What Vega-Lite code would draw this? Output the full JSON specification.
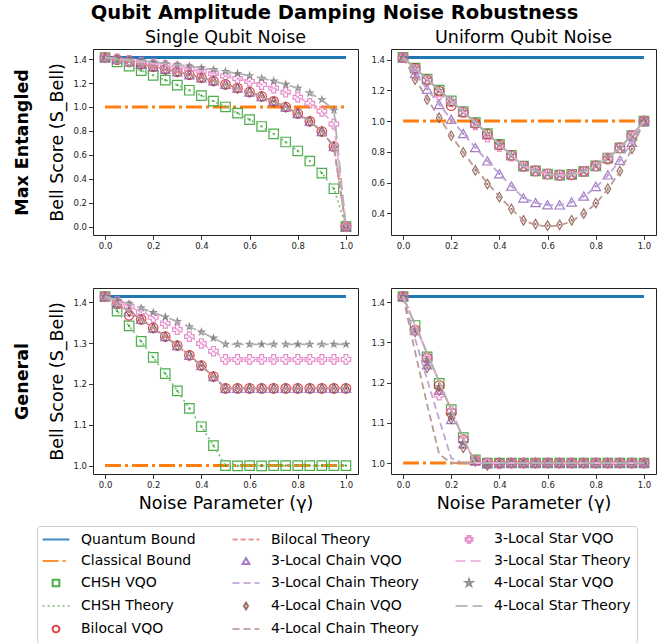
{
  "$schema": "https://vega.github.io/schema/vega-lite/v6.json",
  "background": "white",
  "padding": {"left": 12, "top": 2, "right": 4, "bottom": 2},
  "title": {"text": "Qubit Amplitude Damping Noise Robustness", "fontSize": 19.5, "fontWeight": "bold", "anchor": "middle", "offset": 5, "color": "#000000"},
  "datasets": {
    "names": [
      {"k": "QB", "series": "Quantum Bound", "kind": "bound"},
      {"k": "CB", "series": "Classical Bound", "kind": "bound"},
      {"k": "aV", "series": "CHSH VQO", "kind": "vqo"},
      {"k": "aT", "series": "CHSH Theory", "kind": "theory"},
      {"k": "bV", "series": "Bilocal VQO", "kind": "vqo"},
      {"k": "bT", "series": "Bilocal Theory", "kind": "theory"},
      {"k": "cV", "series": "3-Local Chain VQO", "kind": "vqo"},
      {"k": "cT", "series": "3-Local Chain Theory", "kind": "theory"},
      {"k": "dV", "series": "4-Local Chain VQO", "kind": "vqo"},
      {"k": "dT", "series": "4-Local Chain Theory", "kind": "theory"},
      {"k": "eV", "series": "3-Local Star VQO", "kind": "vqo"},
      {"k": "eT", "series": "3-Local Star Theory", "kind": "theory"},
      {"k": "fV", "series": "4-Local Star VQO", "kind": "vqo"},
      {"k": "fT", "series": "4-Local Star Theory", "kind": "theory"}
    ],
    "d": [
      {"p":"TL","g":0,"QB":1.4142,"CB":1,"aV":1.414,"aT":1.4142,"bV":1.414,"bT":1.4142,"cV":1.414,"cT":1.4142,"dV":1.414,"dT":1.4142,"eV":1.414,"eT":1.4142,"fV":1.414,"fT":1.4142},
      {"p":"TL","g":0.05,"QB":1.4142,"CB":1,"aV":1.378,"aT":1.3784,"bV":1.396,"bT":1.3962,"cV":1.396,"cT":1.3962,"dV":1.396,"dT":1.3962,"eV":1.402,"eT":1.4022,"fV":1.405,"fT":1.4052},
      {"p":"TL","g":0.1,"QB":1.4142,"CB":1,"aV":1.342,"aT":1.3416,"bV":1.377,"bT":1.3774,"cV":1.377,"cT":1.3774,"dV":1.377,"dT":1.3774,"eV":1.39,"eT":1.3896,"fV":1.396,"fT":1.3957},
      {"p":"TL","g":0.15,"QB":1.4142,"CB":1,"aV":1.304,"aT":1.3038,"bV":1.358,"bT":1.3579,"cV":1.358,"cT":1.3579,"dV":1.358,"dT":1.3579,"eV":1.376,"eT":1.3764,"fV":1.386,"fT":1.3858},
      {"p":"TL","g":0.2,"QB":1.4142,"CB":1,"aV":1.265,"aT":1.2649,"bV":1.337,"bT":1.3375,"cV":1.337,"cT":1.3375,"dV":1.337,"dT":1.3375,"eV":1.363,"eT":1.3626,"fV":1.375,"fT":1.3753},
      {"p":"TL","g":0.25,"QB":1.4142,"CB":1,"aV":1.225,"aT":1.2247,"bV":1.316,"bT":1.3161,"cV":1.316,"cT":1.3161,"dV":1.316,"dT":1.3161,"eV":1.348,"eT":1.348,"fV":1.364,"fT":1.3643},
      {"p":"TL","g":0.3,"QB":1.4142,"CB":1,"aV":1.183,"aT":1.1832,"bV":1.294,"bT":1.2936,"cV":1.294,"cT":1.2936,"dV":1.294,"dT":1.2936,"eV":1.333,"eT":1.3326,"fV":1.353,"fT":1.3526},
      {"p":"TL","g":0.35,"QB":1.4142,"CB":1,"aV":1.14,"aT":1.1402,"bV":1.27,"bT":1.2698,"cV":1.27,"cT":1.2698,"dV":1.27,"dT":1.2698,"eV":1.316,"eT":1.3162,"fV":1.34,"fT":1.3401},
      {"p":"TL","g":0.4,"QB":1.4142,"CB":1,"aV":1.095,"aT":1.0954,"bV":1.245,"bT":1.2447,"cV":1.245,"cT":1.2447,"dV":1.245,"dT":1.2447,"eV":1.299,"eT":1.2988,"fV":1.327,"fT":1.3267},
      {"p":"TL","g":0.45,"QB":1.4142,"CB":1,"aV":1.049,"aT":1.0488,"bV":1.218,"bT":1.2179,"cV":1.218,"cT":1.2179,"dV":1.218,"dT":1.2179,"eV":1.28,"eT":1.2801,"fV":1.312,"fT":1.3124},
      {"p":"TL","g":0.5,"QB":1.4142,"CB":1,"aV":1,"aT":1,"bV":1.189,"bT":1.1892,"cV":1.189,"cT":1.1892,"dV":1.189,"dT":1.1892,"eV":1.26,"eT":1.2599,"fV":1.297,"fT":1.2968},
      {"p":"TL","g":0.55,"QB":1.4142,"CB":1,"aV":0.949,"aT":0.9487,"bV":1.158,"bT":1.1583,"cV":1.158,"cT":1.1583,"dV":1.158,"dT":1.1583,"eV":1.238,"eT":1.238,"fV":1.28,"fT":1.2799},
      {"p":"TL","g":0.6,"QB":1.4142,"CB":1,"aV":0.894,"aT":0.8944,"bV":1.125,"bT":1.1247,"cV":1.125,"cT":1.1247,"dV":1.125,"dT":1.1247,"eV":1.214,"eT":1.2139,"fV":1.261,"fT":1.2612},
      {"p":"TL","g":0.65,"QB":1.4142,"CB":1,"aV":0.837,"aT":0.8367,"bV":1.088,"bT":1.0878,"cV":1.088,"cT":1.0878,"dV":1.088,"dT":1.0878,"eV":1.187,"eT":1.1872,"fV":1.24,"fT":1.2403},
      {"p":"TL","g":0.7,"QB":1.4142,"CB":1,"aV":0.775,"aT":0.7746,"bV":1.047,"bT":1.0466,"cV":1.047,"cT":1.0466,"dV":1.047,"dT":1.0466,"eV":1.157,"eT":1.1571,"fV":1.217,"fT":1.2166},
      {"p":"TL","g":0.75,"QB":1.4142,"CB":1,"aV":0.707,"aT":0.7071,"bV":1,"bT":1,"cV":1,"cT":1,"dV":1,"dT":1,"eV":1.123,"eT":1.1225,"fV":1.189,"fT":1.1892},
      {"p":"TL","g":0.8,"QB":1.4142,"CB":1,"aV":0.632,"aT":0.6325,"bV":0.946,"bT":0.9457,"cV":0.946,"cT":0.9457,"dV":0.946,"dT":0.9457,"eV":1.082,"eT":1.0815,"fV":1.157,"fT":1.1565},
      {"p":"TL","g":0.85,"QB":1.4142,"CB":1,"aV":0.548,"aT":0.5477,"bV":0.88,"bT":0.8801,"cV":0.88,"cT":0.8801,"dV":0.88,"dT":0.8801,"eV":1.031,"eT":1.0309,"fV":1.116,"fT":1.1157},
      {"p":"TL","g":0.9,"QB":1.4142,"CB":1,"aV":0.447,"aT":0.4472,"bV":0.795,"bT":0.7953,"cV":0.795,"cT":0.7953,"dV":0.795,"dT":0.7953,"eV":0.964,"eT":0.9635,"fV":1.061,"fT":1.0605},
      {"p":"TL","g":0.95,"QB":1.4142,"CB":1,"aV":0.316,"aT":0.3162,"bV":0.669,"bT":0.6687,"cV":0.669,"cT":0.6687,"dV":0.669,"dT":0.6687,"eV":0.858,"eT":0.8584,"fV":0.973,"fT":0.9725},
      {"p":"TL","g":1,"QB":1.4142,"CB":1,"aV":0,"aT":0,"bV":0,"bT":0,"cV":0,"cT":0,"dV":0,"dT":0,"eV":0,"eT":0,"fV":0,"fT":0},

      {"p":"TR","g":0,"QB":1.4142,"CB":1,"aV":1.414,"aT":1.4142,"bV":1.414,"bT":1.4142,"cV":1.414,"cT":1.4142,"dV":1.414,"dT":1.4142,"eV":1.414,"eT":1.4142,"fV":1.414,"fT":1.4142},
      {"p":"TR","g":0.05,"QB":1.4142,"CB":1,"aV":1.344,"aT":1.3435,"bV":1.343,"bT":1.3435,"cV":1.309,"cT":1.3095,"dV":1.27,"dT":1.2763,"eV":1.335,"eT":1.3435,"fV":1.343,"fT":1.3435},
      {"p":"TR","g":0.1,"QB":1.4142,"CB":1,"aV":1.273,"aT":1.2728,"bV":1.268,"bT":1.2728,"cV":1.207,"cT":1.2075,"dV":1.14,"dT":1.1455,"eV":1.265,"eT":1.2728,"fV":1.272,"fT":1.2728},
      {"p":"TR","g":0.15,"QB":1.4142,"CB":1,"aV":1.202,"aT":1.2021,"bV":1.195,"bT":1.2021,"cV":1.108,"cT":1.1083,"dV":1.022,"dT":1.0218,"eV":1.17,"eT":1.2021,"fV":1.2,"fT":1.2021},
      {"p":"TR","g":0.2,"QB":1.4142,"CB":1,"aV":1.131,"aT":1.1314,"bV":1.1,"bT":1.1314,"cV":1.012,"cT":1.0119,"dV":0.905,"dT":0.9051,"eV":1.125,"eT":1.1314,"fV":1.13,"fT":1.1314},
      {"p":"TR","g":0.25,"QB":1.4142,"CB":1,"aV":1.061,"aT":1.0607,"bV":1.058,"bT":1.0607,"cV":0.919,"cT":0.9186,"dV":0.796,"dT":0.7955,"eV":1.055,"eT":1.0607,"fV":1.06,"fT":1.0607},
      {"p":"TR","g":0.3,"QB":1.4142,"CB":1,"aV":0.99,"aT":0.9899,"bV":0.985,"bT":0.9899,"cV":0.828,"cT":0.8283,"dV":0.68,"dT":0.693,"eV":0.975,"eT":0.9899,"fV":0.988,"fT":0.9899},
      {"p":"TR","g":0.35,"QB":1.4142,"CB":1,"aV":0.919,"aT":0.9192,"bV":0.915,"bT":0.9192,"cV":0.741,"cT":0.7411,"dV":0.59,"dT":0.5975,"eV":0.895,"eT":0.9192,"fV":0.918,"fT":0.9192},
      {"p":"TR","g":0.4,"QB":1.4142,"CB":1,"aV":0.849,"aT":0.8485,"bV":0.845,"bT":0.8485,"cV":0.657,"cT":0.6573,"dV":0.505,"dT":0.5091,"eV":0.835,"eT":0.8485,"fV":0.847,"fT":0.8485},
      {"p":"TR","g":0.45,"QB":1.4142,"CB":1,"aV":0.778,"aT":0.7778,"bV":0.776,"bT":0.7778,"cV":0.577,"cT":0.5768,"dV":0.428,"dT":0.4278,"eV":0.772,"eT":0.7778,"fV":0.777,"fT":0.7778},
      {"p":"TR","g":0.5,"QB":1.4142,"CB":1,"aV":0.707,"aT":0.7071,"bV":0.707,"bT":0.7071,"cV":0.5,"cT":0.5,"dV":0.354,"dT":0.3536,"eV":0.706,"eT":0.7071,"fV":0.707,"fT":0.7071},
      {"p":"TR","g":0.55,"QB":1.4142,"CB":1,"aV":0.676,"aT":0.6764,"bV":0.676,"bT":0.6764,"cV":0.47,"cT":0.469,"dV":0.33,"dT":0.3256,"eV":0.676,"eT":0.6764,"fV":0.676,"fT":0.6764},
      {"p":"TR","g":0.6,"QB":1.4142,"CB":1,"aV":0.656,"aT":0.656,"bV":0.656,"bT":0.656,"cV":0.456,"cT":0.4524,"dV":0.32,"dT":0.3142,"eV":0.656,"eT":0.656,"fV":0.656,"fT":0.656},
      {"p":"TR","g":0.65,"QB":1.4142,"CB":1,"aV":0.648,"aT":0.6477,"bV":0.648,"bT":0.6477,"cV":0.455,"cT":0.4525,"dV":0.325,"dT":0.3213,"eV":0.648,"eT":0.6477,"fV":0.648,"fT":0.6477},
      {"p":"TR","g":0.7,"QB":1.4142,"CB":1,"aV":0.653,"aT":0.653,"bV":0.65,"bT":0.653,"cV":0.474,"cT":0.4713,"dV":0.355,"dT":0.3483,"eV":0.653,"eT":0.653,"fV":0.653,"fT":0.653},
      {"p":"TR","g":0.75,"QB":1.4142,"CB":1,"aV":0.673,"aT":0.6731,"bV":0.673,"bT":0.6731,"cV":0.512,"cT":0.5096,"dV":0.398,"dT":0.3956,"eV":0.673,"eT":0.6731,"fV":0.673,"fT":0.6731},
      {"p":"TR","g":0.8,"QB":1.4142,"CB":1,"aV":0.709,"aT":0.7088,"bV":0.709,"bT":0.7088,"cV":0.575,"cT":0.5678,"dV":0.466,"dT":0.4641,"eV":0.709,"eT":0.7088,"fV":0.709,"fT":0.7088},
      {"p":"TR","g":0.85,"QB":1.4142,"CB":1,"aV":0.76,"aT":0.76,"bV":0.752,"bT":0.76,"cV":0.65,"cT":0.6457,"dV":0.56,"dT":0.5555,"eV":0.76,"eT":0.76,"fV":0.76,"fT":0.76},
      {"p":"TR","g":0.9,"QB":1.4142,"CB":1,"aV":0.826,"aT":0.8261,"bV":0.826,"bT":0.8261,"cV":0.745,"cT":0.7432,"dV":0.675,"dT":0.6725,"eV":0.826,"eT":0.8261,"fV":0.826,"fT":0.8261},
      {"p":"TR","g":0.95,"QB":1.4142,"CB":1,"aV":0.906,"aT":0.9064,"bV":0.906,"bT":0.9064,"cV":0.862,"cT":0.861,"dV":0.82,"dT":0.819,"eV":0.906,"eT":0.9064,"fV":0.906,"fT":0.9064},
      {"p":"TR","g":1,"QB":1.4142,"CB":1,"aV":1,"aT":1,"bV":1,"bT":1,"cV":1,"cT":1,"dV":1,"dT":1,"eV":1,"eT":1,"fV":1,"fT":1},

      {"p":"BL","g":0,"QB":1.4142,"CB":1,"aV":1.414,"aT":1.4142,"bV":1.414,"bT":1.4142,"cV":1.414,"cT":1.4142,"dV":1.414,"dT":1.4142,"eV":1.414,"eT":1.4142,"fV":1.414,"fT":1.4142},
      {"p":"BL","g":0.05,"QB":1.4142,"CB":1,"aV":1.378,"aT":1.3784,"bV":1.396,"bT":1.3962,"cV":1.396,"cT":1.3962,"dV":1.396,"dT":1.3962,"eV":1.402,"eT":1.4022,"fV":1.405,"fT":1.4052},
      {"p":"BL","g":0.1,"QB":1.4142,"CB":1,"aV":1.342,"aT":1.3416,"bV":1.368,"bT":1.3774,"cV":1.377,"cT":1.3774,"dV":1.377,"dT":1.3774,"eV":1.39,"eT":1.3896,"fV":1.396,"fT":1.3957},
      {"p":"BL","g":0.15,"QB":1.4142,"CB":1,"aV":1.304,"aT":1.3038,"bV":1.358,"bT":1.3579,"cV":1.358,"cT":1.3579,"dV":1.358,"dT":1.3579,"eV":1.376,"eT":1.3764,"fV":1.386,"fT":1.3858},
      {"p":"BL","g":0.2,"QB":1.4142,"CB":1,"aV":1.265,"aT":1.2649,"bV":1.337,"bT":1.3375,"cV":1.337,"cT":1.3375,"dV":1.337,"dT":1.3375,"eV":1.363,"eT":1.3626,"fV":1.375,"fT":1.3753},
      {"p":"BL","g":0.25,"QB":1.4142,"CB":1,"aV":1.225,"aT":1.2247,"bV":1.316,"bT":1.3161,"cV":1.316,"cT":1.3161,"dV":1.316,"dT":1.3161,"eV":1.348,"eT":1.348,"fV":1.364,"fT":1.3643},
      {"p":"BL","g":0.3,"QB":1.4142,"CB":1,"aV":1.183,"aT":1.1832,"bV":1.294,"bT":1.2936,"cV":1.294,"cT":1.2936,"dV":1.294,"dT":1.2936,"eV":1.333,"eT":1.3326,"fV":1.353,"fT":1.3526},
      {"p":"BL","g":0.35,"QB":1.4142,"CB":1,"aV":1.14,"aT":1.1402,"bV":1.27,"bT":1.2698,"cV":1.27,"cT":1.2698,"dV":1.27,"dT":1.2698,"eV":1.316,"eT":1.3162,"fV":1.34,"fT":1.3401},
      {"p":"BL","g":0.4,"QB":1.4142,"CB":1,"aV":1.095,"aT":1.0954,"bV":1.245,"bT":1.2447,"cV":1.245,"cT":1.2447,"dV":1.245,"dT":1.2447,"eV":1.299,"eT":1.2988,"fV":1.327,"fT":1.3267},
      {"p":"BL","g":0.45,"QB":1.4142,"CB":1,"aV":1.049,"aT":1.0488,"bV":1.218,"bT":1.2179,"cV":1.218,"cT":1.2179,"dV":1.218,"dT":1.2179,"eV":1.28,"eT":1.2801,"fV":1.312,"fT":1.3124},
      {"p":"BL","g":0.5,"QB":1.4142,"CB":1,"aV":1,"aT":1,"bV":1.189,"bT":1.1892,"cV":1.189,"cT":1.1892,"dV":1.189,"dT":1.1892,"eV":1.26,"eT":1.2599,"fV":1.297,"fT":1.2968},
      {"p":"BL","g":0.55,"QB":1.4142,"CB":1,"aV":0.999,"aT":1,"bV":1.189,"bT":1.1892,"cV":1.189,"cT":1.1892,"dV":1.189,"dT":1.1892,"eV":1.26,"eT":1.2599,"fV":1.297,"fT":1.2968},
      {"p":"BL","g":0.6,"QB":1.4142,"CB":1,"aV":1,"aT":1,"bV":1.189,"bT":1.1892,"cV":1.189,"cT":1.1892,"dV":1.189,"dT":1.1892,"eV":1.26,"eT":1.2599,"fV":1.297,"fT":1.2968},
      {"p":"BL","g":0.65,"QB":1.4142,"CB":1,"aV":0.999,"aT":1,"bV":1.189,"bT":1.1892,"cV":1.189,"cT":1.1892,"dV":1.189,"dT":1.1892,"eV":1.26,"eT":1.2599,"fV":1.297,"fT":1.2968},
      {"p":"BL","g":0.7,"QB":1.4142,"CB":1,"aV":1,"aT":1,"bV":1.189,"bT":1.1892,"cV":1.189,"cT":1.1892,"dV":1.189,"dT":1.1892,"eV":1.26,"eT":1.2599,"fV":1.297,"fT":1.2968},
      {"p":"BL","g":0.75,"QB":1.4142,"CB":1,"aV":1,"aT":1,"bV":1.189,"bT":1.1892,"cV":1.189,"cT":1.1892,"dV":1.189,"dT":1.1892,"eV":1.26,"eT":1.2599,"fV":1.297,"fT":1.2968},
      {"p":"BL","g":0.8,"QB":1.4142,"CB":1,"aV":1,"aT":1,"bV":1.189,"bT":1.1892,"cV":1.189,"cT":1.1892,"dV":1.189,"dT":1.1892,"eV":1.26,"eT":1.2599,"fV":1.297,"fT":1.2968},
      {"p":"BL","g":0.85,"QB":1.4142,"CB":1,"aV":1,"aT":1,"bV":1.189,"bT":1.1892,"cV":1.189,"cT":1.1892,"dV":1.189,"dT":1.1892,"eV":1.26,"eT":1.2599,"fV":1.297,"fT":1.2968},
      {"p":"BL","g":0.9,"QB":1.4142,"CB":1,"aV":1,"aT":1,"bV":1.189,"bT":1.1892,"cV":1.189,"cT":1.1892,"dV":1.189,"dT":1.1892,"eV":1.26,"eT":1.2599,"fV":1.297,"fT":1.2968},
      {"p":"BL","g":0.95,"QB":1.4142,"CB":1,"aV":1,"aT":1,"bV":1.189,"bT":1.1892,"cV":1.189,"cT":1.1892,"dV":1.189,"dT":1.1892,"eV":1.26,"eT":1.2599,"fV":1.297,"fT":1.2968},
      {"p":"BL","g":1,"QB":1.4142,"CB":1,"aV":1,"aT":1,"bV":1.189,"bT":1.1892,"cV":1.189,"cT":1.1892,"dV":1.189,"dT":1.1892,"eV":1.26,"eT":1.2599,"fV":1.297,"fT":1.2968},

      {"p":"BR","g":0,"QB":1.4142,"CB":1,"aV":1.414,"aT":1.4142,"bV":1.414,"bT":1.4142,"cV":1.414,"cT":1.4142,"dV":1.414,"dT":1.4142,"eV":1.414,"eT":1.4142,"fV":1.414,"fT":1.4142},
      {"p":"BR","g":0.05,"QB":1.4142,"CB":1,"aV":1.342,"aT":1.3435,"bV":1.331,"bT":1.3435,"cV":1.33,"cT":1.3095,"dV":1.326,"dT":1.2763,"eV":1.33,"eT":1.3435,"fV":1.33,"fT":1.3435},
      {"p":"BR","g":0.1,"QB":1.4142,"CB":1,"aV":1.264,"aT":1.2728,"bV":1.262,"bT":1.2728,"cV":1.244,"cT":1.2075,"dV":1.237,"dT":1.1455,"eV":1.26,"eT":1.2728,"fV":1.258,"fT":1.2728},
      {"p":"BR","g":0.15,"QB":1.4142,"CB":1,"aV":1.198,"aT":1.2021,"bV":1.193,"bT":1.2021,"cV":1.181,"cT":1.1083,"dV":1.18,"dT":1.0218,"eV":1.169,"eT":1.2021,"fV":1.19,"fT":1.2021},
      {"p":"BR","g":0.2,"QB":1.4142,"CB":1,"aV":1.133,"aT":1.1314,"bV":1.125,"bT":1.1314,"cV":1.108,"cT":1.0119,"dV":1.11,"dT":1,"eV":1.13,"eT":1.1314,"fV":1.12,"fT":1.1314},
      {"p":"BR","g":0.25,"QB":1.4142,"CB":1,"aV":1.063,"aT":1.0607,"bV":1.058,"bT":1.0607,"cV":1.048,"cT":1,"dV":1.038,"dT":1,"eV":1.058,"eT":1.0607,"fV":1.05,"fT":1.0607},
      {"p":"BR","g":0.3,"QB":1.4142,"CB":1,"aV":1.008,"aT":1,"bV":1.006,"bT":1,"cV":1.005,"cT":1,"dV":1.004,"dT":1,"eV":1.006,"eT":1,"fV":1.005,"fT":1},
      {"p":"BR","g":0.35,"QB":1.4142,"CB":1,"aV":1,"aT":1,"bV":1,"bT":1,"cV":0.998,"cT":1,"dV":0.994,"dT":1,"eV":1,"eT":1,"fV":0.994,"fT":1},
      {"p":"BR","g":0.4,"QB":1.4142,"CB":1,"aV":1,"aT":1,"bV":1,"bT":1,"cV":1,"cT":1,"dV":1,"dT":1,"eV":0.998,"eT":1,"fV":1,"fT":1},
      {"p":"BR","g":0.45,"QB":1.4142,"CB":1,"aV":1,"aT":1,"bV":1,"bT":1,"cV":1,"cT":1,"dV":1,"dT":1,"eV":1,"eT":1,"fV":1,"fT":1},
      {"p":"BR","g":0.5,"QB":1.4142,"CB":1,"aV":1,"aT":1,"bV":1,"bT":1,"cV":1,"cT":1,"dV":1,"dT":1,"eV":1,"eT":1,"fV":1,"fT":1},
      {"p":"BR","g":0.55,"QB":1.4142,"CB":1,"aV":1,"aT":1,"bV":1,"bT":1,"cV":1,"cT":1,"dV":1,"dT":1,"eV":1,"eT":1,"fV":1,"fT":1},
      {"p":"BR","g":0.6,"QB":1.4142,"CB":1,"aV":1,"aT":1,"bV":1,"bT":1,"cV":1,"cT":1,"dV":1,"dT":1,"eV":1,"eT":1,"fV":1,"fT":1},
      {"p":"BR","g":0.65,"QB":1.4142,"CB":1,"aV":1,"aT":1,"bV":1,"bT":1,"cV":1,"cT":1,"dV":1,"dT":1,"eV":1,"eT":1,"fV":1,"fT":1},
      {"p":"BR","g":0.7,"QB":1.4142,"CB":1,"aV":1,"aT":1,"bV":1,"bT":1,"cV":1,"cT":1,"dV":1,"dT":1,"eV":1,"eT":1,"fV":1,"fT":1},
      {"p":"BR","g":0.75,"QB":1.4142,"CB":1,"aV":1,"aT":1,"bV":1,"bT":1,"cV":1,"cT":1,"dV":1,"dT":1,"eV":1,"eT":1,"fV":1,"fT":1},
      {"p":"BR","g":0.8,"QB":1.4142,"CB":1,"aV":1,"aT":1,"bV":1,"bT":1,"cV":1,"cT":1,"dV":1,"dT":1,"eV":1,"eT":1,"fV":1,"fT":1},
      {"p":"BR","g":0.85,"QB":1.4142,"CB":1,"aV":1,"aT":1,"bV":1,"bT":1,"cV":1,"cT":1,"dV":1,"dT":1,"eV":1,"eT":1,"fV":1,"fT":1},
      {"p":"BR","g":0.9,"QB":1.4142,"CB":1,"aV":1,"aT":1,"bV":1,"bT":1,"cV":1,"cT":1,"dV":1,"dT":1,"eV":1,"eT":1,"fV":1,"fT":1},
      {"p":"BR","g":0.95,"QB":1.4142,"CB":1,"aV":1,"aT":1,"bV":1,"bT":1,"cV":1,"cT":1,"dV":1,"dT":1,"eV":1,"eT":1,"fV":1,"fT":1},
      {"p":"BR","g":1,"QB":1.4142,"CB":1,"aV":1,"aT":1,"bV":1,"bT":1,"cV":1,"cT":1,"dV":1,"dT":1,"eV":1,"eT":1,"fV":1,"fT":1}
    ]
  },
  "config": {
    "font": "DejaVu Sans",
    "view": {"stroke": "#222222", "strokeWidth": 1},
    "axis": {"grid": false, "domain": false, "tickColor": "#222222", "tickSize": 4.5, "tickWidth": 0.9, "labelFont": "DejaVu Sans", "labelFontSize": 8.5, "labelColor": "#222222", "labelPadding": 2, "labelFlush": false, "titleFont": "DejaVu Sans", "titleFontSize": 17.5, "titleFontWeight": "normal", "titleColor": "#000000"},
    "axisX": {"titlePadding": 5},
    "axisY": {"titlePadding": 6},
    "title": {"font": "DejaVu Sans", "color": "#000000"}
  },
  "spacing": 36,
  "vconcat": [
    {
      "spacing": 11,
      "hconcat": [
        {
          "width": 265, "height": 186,
          "title": {"text": "Single Qubit Noise", "fontSize": 17.5, "fontWeight": "normal", "anchor": "middle", "offset": 3},
          "data": {"name": "d"},
          "transform": [
            {"filter": "datum.p === 'TL'"},
            {"fold": ["QB","CB","aV","aT","bV","bT","cV","cT","dV","dT","eV","eT","fV","fT"], "as": ["k","v"]},
            {"lookup": "k", "from": {"data": {"name": "names"}, "key": "k", "fields": ["series","kind"]}}
          ],
          "resolve": {"scale": {"y": "independent"}, "axis": {"y": "independent"}},
          "layer": [
            {
              "encoding": {
                "x": {"field": "g", "type": "quantitative", "scale": {"domain": [-0.05, 1.05], "nice": false, "zero": false}, "axis": {"title": null, "values": [0,0.2,0.4,0.6,0.8,1], "format": ".1f"}},
                "y": {"field": "v", "type": "quantitative", "scale": {"domain": [-0.0707, 1.4849], "nice": false, "zero": false}, "axis": {"title": "Bell Score (S_Bell)", "values": [0,0.2,0.4,0.6,0.8,1,1.2,1.4], "format": ".1f"}}
              },
              "layer": [
                {
                  "transform": [{"filter": "datum.kind === 'bound'"}],
                  "mark": {"type": "line", "strokeWidth": 3},
                  "encoding": {
                    "color": {"field": "series", "type": "nominal",
                      "scale": {"domain": ["Quantum Bound","Classical Bound","CHSH VQO","CHSH Theory","Bilocal VQO","Bilocal Theory","3-Local Chain VQO","3-Local Chain Theory","4-Local Chain VQO","4-Local Chain Theory","3-Local Star VQO","3-Local Star Theory","4-Local Star VQO","4-Local Star Theory"],
                                "range": ["#1f77b4","#ff7f0e","#2ca02c","#80c680","#d62728","#e67d7e","#9467bd","#bfa4d7","#8c564b","#ba9a93","#e377c2","#eeadda","#7f7f7f","#b2b2b2"]},
                      "legend": {
                        "orient": "none", "legendX": -56, "legendY": 477,
                        "title": null, "columns": 3, "columnPadding": 32, "rowPadding": 7,
                        "symbolSize": 45, "symbolStrokeWidth": 2, "symbolFillColor": "transparent", "symbolOffset": 6,
                        "labelFontSize": 14, "labelFont": "DejaVu Sans", "labelColor": "#000000", "labelOffset": 18, "labelLimit": 400,
                        "padding": 6, "strokeColor": "#cccccc", "fillColor": "#ffffff", "cornerRadius": 3
                      }
                    },
                    "strokeDash": {"field": "series", "type": "nominal",
                      "scale": {"domain": ["Quantum Bound","Classical Bound","CHSH VQO","CHSH Theory","Bilocal VQO","Bilocal Theory","3-Local Chain VQO","3-Local Chain Theory","4-Local Chain VQO","4-Local Chain Theory","3-Local Star VQO","3-Local Star Theory","4-Local Star VQO","4-Local Star Theory"],
                                "range": [[1,0],[16,4,3,4],[1,0],[2,3],[1,0],[5,3],[1,0],[7,4],[1,0],[7,4],[1,0],[10,5],[1,0],[12,5]]}}
                  }
                },
                {
                  "transform": [{"filter": "datum.kind === 'vqo' && datum.k !== 'fV'"}],
                  "mark": {"type": "point", "filled": false, "size": 90, "strokeWidth": 1.2, "opacity": 0.85},
                  "encoding": {
                    "color": {"field": "series", "type": "nominal"},
                    "shape": {"field": "series", "type": "nominal",
                      "scale": {"domain": ["Quantum Bound","Classical Bound","CHSH VQO","CHSH Theory","Bilocal VQO","Bilocal Theory","3-Local Chain VQO","3-Local Chain Theory","4-Local Chain VQO","4-Local Chain Theory","3-Local Star VQO","3-Local Star Theory","4-Local Star VQO","4-Local Star Theory"],
                                "range": ["M-4,0L4,0","M-4,0L4,0","square","M-4,0L4,0","circle","M-4,0L4,0","triangle-up","M-4,0L4,0","M0,-1L0.6,0L0,1L-0.6,0Z","M-4,0L4,0","cross","M-4,0L4,0","M0,-1L0.22,-0.31L0.95,-0.31L0.36,0.12L0.59,0.81L0,0.38L-0.59,0.81L-0.36,0.12L-0.95,-0.31L-0.22,-0.31Z","M-4,0L4,0"]}}
                  }
                },
                {
                  "transform": [{"filter": "datum.k === 'fV'"}],
                  "mark": {"type": "point", "filled": true, "size": 100, "opacity": 0.9, "color": "#7f7f7f", "shape": "M0,-1L0.22,-0.31L0.95,-0.31L0.36,0.12L0.59,0.81L0,0.38L-0.59,0.81L-0.36,0.12L-0.95,-0.31L-0.22,-0.31Z"}
                },
                {
                  "transform": [{"filter": "datum.kind === 'vqo'"}],
                  "mark": {"type": "point", "filled": true, "size": 5, "opacity": 1, "shape": "circle"},
                  "encoding": {"fill": {"field": "series", "type": "nominal", "legend": null,
                    "scale": {"domain": ["CHSH VQO","Bilocal VQO","3-Local Chain VQO","4-Local Chain VQO","3-Local Star VQO","4-Local Star VQO"],
                              "range": ["#2ca02c","#d62728","#9467bd","#8c564b","#e377c2","#7f7f7f"]}}}
                },
                {
                  "transform": [{"filter": "datum.kind === 'theory'"}],
                  "mark": {"type": "line", "strokeWidth": 1.8},
                  "encoding": {
                    "color": {"field": "series", "type": "nominal"},
                    "strokeDash": {"field": "series", "type": "nominal"}
                  }
                }
              ]
            },
            {
              "transform": [{"filter": "datum.k === 'QB'"}],
              "mark": {"type": "rule", "opacity": 0},
              "encoding": {
                "y": {"field": "v", "type": "quantitative", "scale": {"domain": [-0.0707, 1.4849], "nice": false, "zero": false},
                      "axis": {"orient": "left", "title": "Max Entangled", "titleFontWeight": "bold", "labels": false, "ticks": false, "domain": false, "offset": 62, "titlePadding": 0}}
              }
            }
          ]
        },
        {
          "width": 265, "height": 186,
          "title": {"text": "Uniform Qubit Noise", "fontSize": 17.5, "fontWeight": "normal", "anchor": "middle", "offset": 3},
          "data": {"name": "d"},
          "transform": [
            {"filter": "datum.p === 'TR'"},
            {"fold": ["QB","CB","aV","aT","bV","bT","cV","cT","dV","dT","eV","eT","fV","fT"], "as": ["k","v"]},
            {"lookup": "k", "from": {"data": {"name": "names"}, "key": "k", "fields": ["series","kind"]}}
          ],
          "encoding": {
            "x": {"field": "g", "type": "quantitative", "scale": {"domain": [-0.05, 1.05], "nice": false, "zero": false}, "axis": {"title": null, "values": [0,0.2,0.4,0.6,0.8,1], "format": ".1f"}},
            "y": {"field": "v", "type": "quantitative", "scale": {"domain": [0.259, 1.469], "nice": false, "zero": false}, "axis": {"title": null, "values": [0.4,0.6,0.8,1,1.2,1.4], "format": ".1f"}}
          },
          "layer": [
            {
              "transform": [{"filter": "datum.kind === 'bound'"}],
              "mark": {"type": "line", "strokeWidth": 3},
              "encoding": {
                "color": {"field": "series", "type": "nominal"},
                "strokeDash": {"field": "series", "type": "nominal"}
              }
            },
            {
              "transform": [{"filter": "datum.kind === 'vqo' && datum.k !== 'fV'"}],
              "mark": {"type": "point", "filled": false, "size": 90, "strokeWidth": 1.2, "opacity": 0.85},
              "encoding": {
                "color": {"field": "series", "type": "nominal"},
                "shape": {"field": "series", "type": "nominal"}
              }
            },
            {
              "transform": [{"filter": "datum.k === 'fV'"}],
              "mark": {"type": "point", "filled": true, "size": 100, "opacity": 0.9, "color": "#7f7f7f", "shape": "M0,-1L0.22,-0.31L0.95,-0.31L0.36,0.12L0.59,0.81L0,0.38L-0.59,0.81L-0.36,0.12L-0.95,-0.31L-0.22,-0.31Z"}
            },
            {
              "transform": [{"filter": "datum.kind === 'vqo'"}],
              "mark": {"type": "point", "filled": true, "size": 5, "opacity": 1, "shape": "circle"},
              "encoding": {"fill": {"field": "series", "type": "nominal", "legend": null}}
            },
            {
              "transform": [{"filter": "datum.kind === 'theory'"}],
              "mark": {"type": "line", "strokeWidth": 1.8},
              "encoding": {
                "color": {"field": "series", "type": "nominal"},
                "strokeDash": {"field": "series", "type": "nominal"}
              }
            }
          ]
        }
      ]
    },
    {
      "spacing": 11,
      "hconcat": [
        {
          "width": 265, "height": 186,
          "data": {"name": "d"},
          "transform": [
            {"filter": "datum.p === 'BL'"},
            {"fold": ["QB","CB","aV","aT","bV","bT","cV","cT","dV","dT","eV","eT","fV","fT"], "as": ["k","v"]},
            {"lookup": "k", "from": {"data": {"name": "names"}, "key": "k", "fields": ["series","kind"]}}
          ],
          "resolve": {"scale": {"y": "independent"}, "axis": {"y": "independent"}},
          "layer": [
            {
              "encoding": {
                "x": {"field": "g", "type": "quantitative", "scale": {"domain": [-0.05, 1.05], "nice": false, "zero": false}, "axis": {"title": "Noise Parameter (γ)", "values": [0,0.2,0.4,0.6,0.8,1], "format": ".1f"}},
                "y": {"field": "v", "type": "quantitative", "scale": {"domain": [0.9793, 1.4349], "nice": false, "zero": false}, "axis": {"title": "Bell Score (S_Bell)", "values": [1,1.1,1.2,1.3,1.4], "format": ".1f"}}
              },
              "layer": [
                {
                  "transform": [{"filter": "datum.kind === 'bound'"}],
                  "mark": {"type": "line", "strokeWidth": 3},
                  "encoding": {
                    "color": {"field": "series", "type": "nominal"},
                    "strokeDash": {"field": "series", "type": "nominal"}
                  }
                },
                {
                  "transform": [{"filter": "datum.kind === 'vqo' && datum.k !== 'fV'"}],
                  "mark": {"type": "point", "filled": false, "size": 90, "strokeWidth": 1.2, "opacity": 0.85},
                  "encoding": {
                    "color": {"field": "series", "type": "nominal"},
                    "shape": {"field": "series", "type": "nominal"}
                  }
                },
                {
                  "transform": [{"filter": "datum.k === 'fV'"}],
                  "mark": {"type": "point", "filled": true, "size": 100, "opacity": 0.9, "color": "#7f7f7f", "shape": "M0,-1L0.22,-0.31L0.95,-0.31L0.36,0.12L0.59,0.81L0,0.38L-0.59,0.81L-0.36,0.12L-0.95,-0.31L-0.22,-0.31Z"}
                },
                {
                  "transform": [{"filter": "datum.kind === 'vqo'"}],
                  "mark": {"type": "point", "filled": true, "size": 5, "opacity": 1, "shape": "circle"},
                  "encoding": {"fill": {"field": "series", "type": "nominal", "legend": null}}
                },
                {
                  "transform": [{"filter": "datum.kind === 'theory'"}],
                  "mark": {"type": "line", "strokeWidth": 1.8},
                  "encoding": {
                    "color": {"field": "series", "type": "nominal"},
                    "strokeDash": {"field": "series", "type": "nominal"}
                  }
                }
              ]
            },
            {
              "transform": [{"filter": "datum.k === 'QB'"}],
              "mark": {"type": "rule", "opacity": 0},
              "encoding": {
                "y": {"field": "v", "type": "quantitative", "scale": {"domain": [0.9793, 1.4349], "nice": false, "zero": false},
                      "axis": {"orient": "left", "title": "General", "titleFontWeight": "bold", "labels": false, "ticks": false, "domain": false, "offset": 62, "titlePadding": 0}}
              }
            }
          ]
        },
        {
          "width": 265, "height": 186,
          "data": {"name": "d"},
          "transform": [
            {"filter": "datum.p === 'BR'"},
            {"fold": ["QB","CB","aV","aT","bV","bT","cV","cT","dV","dT","eV","eT","fV","fT"], "as": ["k","v"]},
            {"lookup": "k", "from": {"data": {"name": "names"}, "key": "k", "fields": ["series","kind"]}}
          ],
          "encoding": {
            "x": {"field": "g", "type": "quantitative", "scale": {"domain": [-0.05, 1.05], "nice": false, "zero": false}, "axis": {"title": "Noise Parameter (γ)", "values": [0,0.2,0.4,0.6,0.8,1], "format": ".1f"}},
            "y": {"field": "v", "type": "quantitative", "scale": {"domain": [0.9727, 1.4352], "nice": false, "zero": false}, "axis": {"title": null, "values": [1,1.1,1.2,1.3,1.4], "format": ".1f"}}
          },
          "layer": [
            {
              "transform": [{"filter": "datum.kind === 'bound'"}],
              "mark": {"type": "line", "strokeWidth": 3},
              "encoding": {
                "color": {"field": "series", "type": "nominal"},
                "strokeDash": {"field": "series", "type": "nominal"}
              }
            },
            {
              "transform": [{"filter": "datum.kind === 'vqo' && datum.k !== 'fV'"}],
              "mark": {"type": "point", "filled": false, "size": 90, "strokeWidth": 1.2, "opacity": 0.85},
              "encoding": {
                "color": {"field": "series", "type": "nominal"},
                "shape": {"field": "series", "type": "nominal"}
              }
            },
            {
              "transform": [{"filter": "datum.k === 'fV'"}],
              "mark": {"type": "point", "filled": true, "size": 100, "opacity": 0.9, "color": "#7f7f7f", "shape": "M0,-1L0.22,-0.31L0.95,-0.31L0.36,0.12L0.59,0.81L0,0.38L-0.59,0.81L-0.36,0.12L-0.95,-0.31L-0.22,-0.31Z"}
            },
            {
              "transform": [{"filter": "datum.kind === 'vqo'"}],
              "mark": {"type": "point", "filled": true, "size": 5, "opacity": 1, "shape": "circle"},
              "encoding": {"fill": {"field": "series", "type": "nominal", "legend": null}}
            },
            {
              "transform": [{"filter": "datum.kind === 'theory'"}],
              "mark": {"type": "line", "strokeWidth": 1.8},
              "encoding": {
                "color": {"field": "series", "type": "nominal"},
                "strokeDash": {"field": "series", "type": "nominal"}
              }
            }
          ]
        }
      ]
    }
  ]
}
